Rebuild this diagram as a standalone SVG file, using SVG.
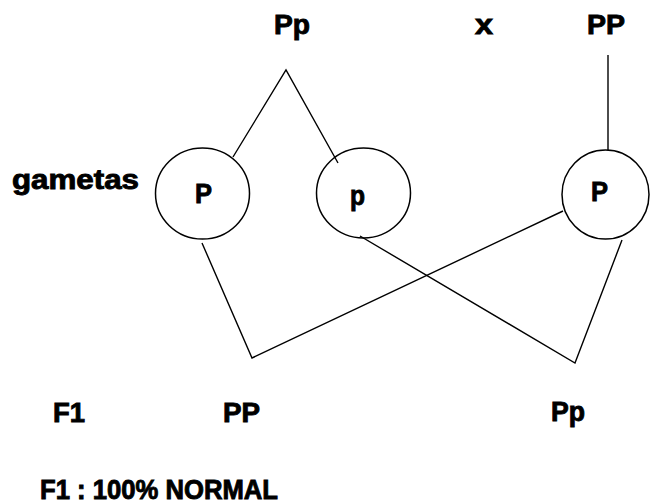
<svg xmlns="http://www.w3.org/2000/svg" width="650" height="504" viewBox="0 0 650 504">
<style>
text{font-family:"Liberation Sans",Arial,sans-serif;font-weight:bold;font-size:27px;fill:#000;stroke:#000;stroke-width:0.9}
.c{fill:none;stroke:#000;stroke-width:1.5}
.l{fill:none;stroke:#000;stroke-width:1.4}
</style>
<rect width="650" height="504" fill="#fff"/>
<g id="labels">
<text x="274" y="34" textLength="36" lengthAdjust="spacingAndGlyphs">Pp</text>
<text x="475" y="34" textLength="18" lengthAdjust="spacingAndGlyphs">x</text>
<text x="587" y="34" textLength="38" lengthAdjust="spacingAndGlyphs">PP</text>
<text x="12" y="189" textLength="127" lengthAdjust="spacingAndGlyphs">gametas</text>
<text x="53" y="422" textLength="32" lengthAdjust="spacingAndGlyphs">F1</text>
<text x="40" y="499" textLength="238" lengthAdjust="spacingAndGlyphs">F1 : 100% NORMAL</text>
</g>
<g id="gamete-P1">
<ellipse class="c" cx="202.5" cy="193.5" rx="47" ry="45.5"/>
<text x="195" y="203" textLength="17" lengthAdjust="spacingAndGlyphs">P</text>
</g>
<g id="gamete-p">
<ellipse class="c" cx="363.5" cy="193" rx="47" ry="45"/>
<text x="350" y="205" textLength="15" lengthAdjust="spacingAndGlyphs">p</text>
</g>
<g id="gamete-P2">
<ellipse class="c" cx="605.5" cy="194.5" rx="43.5" ry="44.5"/>
<text x="591" y="201" textLength="17" lengthAdjust="spacingAndGlyphs">P</text>
</g>
<g id="offspring-PP">
<text x="223" y="422" textLength="37" lengthAdjust="spacingAndGlyphs">PP</text>
</g>
<g id="offspring-Pp">
<text x="551" y="421" textLength="34" lengthAdjust="spacingAndGlyphs">Pp</text>
</g>
<g id="connectors">
<polyline class="l" points="233,157 286,70 338,163"/>
<line class="l" x1="608" y1="55" x2="608" y2="150"/>
<polyline class="l" points="202,243 252,358 563,211"/>
<polyline class="l" points="360,236 575,363 622,240"/>
</g>
</svg>
